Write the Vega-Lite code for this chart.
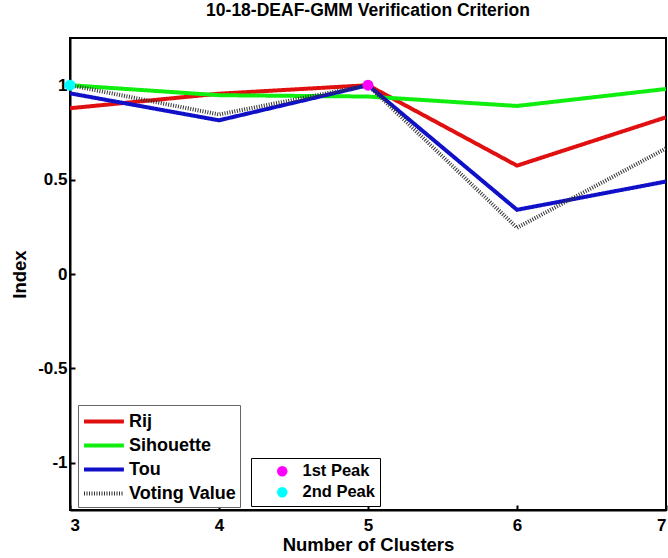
{
  "$schema": "https://vega.github.io/schema/vega-lite/v6.json",
  "width": 596,
  "height": 472,
  "autosize": {"type": "none"},
  "padding": {"left": 70, "top": 38, "right": 2, "bottom": 48},
  "background": "white",
  "config": {
    "font": "Liberation Sans",
    "view": {"stroke": "black", "strokeWidth": 2},
    "axis": {"grid": false, "domainColor": "black", "domainWidth": 2, "tickColor": "black", "tickWidth": 2,
             "labelFont": "Liberation Sans", "labelFontWeight": "bold", "labelFontSize": 17, "labelColor": "black",
             "titleFont": "Liberation Sans", "titleFontWeight": "bold", "titleFontSize": 18.5, "titleColor": "black"},
    "legend": {"labelFont": "Liberation Sans", "labelFontWeight": "bold", "labelFontSize": 18, "labelColor": "black",
               "strokeColor": "#666", "fillColor": "white", "padding": 6}
  },
  "title": {"text": "10-18-DEAF-GMM Verification Criterion", "font": "Liberation Sans", "fontWeight": "bold", "fontSize": 17.5, "color": "black", "offset": 19},
  "datasets": {
    "lines": [
      {"k": 3, "v": 0.878, "s": "Rij"}, {"k": 4, "v": 0.955, "s": "Rij"}, {"k": 5, "v": 1.0, "s": "Rij"}, {"k": 6, "v": 0.574, "s": "Rij"}, {"k": 7, "v": 0.83, "s": "Rij"},
      {"k": 3, "v": 1.0, "s": "Sihouette"}, {"k": 4, "v": 0.947, "s": "Sihouette"}, {"k": 5, "v": 0.94, "s": "Sihouette"}, {"k": 6, "v": 0.89, "s": "Sihouette"}, {"k": 7, "v": 0.98, "s": "Sihouette"},
      {"k": 3, "v": 0.957, "s": "Tou"}, {"k": 4, "v": 0.814, "s": "Tou"}, {"k": 5, "v": 1.0, "s": "Tou"}, {"k": 6, "v": 0.34, "s": "Tou"}, {"k": 7, "v": 0.49, "s": "Tou"},
      {"k": 3, "v": 1.0, "s": "Voting Value"}, {"k": 4, "v": 0.845, "s": "Voting Value"}, {"k": 5, "v": 1.0, "s": "Voting Value"}, {"k": 6, "v": 0.245, "s": "Voting Value"}, {"k": 7, "v": 0.665, "s": "Voting Value"}
    ],
    "peaks": [
      {"k": 5, "v": 1.0, "p": "1st Peak"},
      {"k": 3, "v": 1.0, "p": "2nd Peak"}
    ]
  },
  "encoding": {
    "x": {"field": "k", "type": "quantitative", "scale": {"domain": [3, 7], "nice": false},
          "axis": {"values": [3, 4, 5, 6, 7], "format": "d", "title": "Number of Clusters", "tickSize": -5, "labelPadding": 12, "titlePadding": 2}},
    "y": {"field": "v", "type": "quantitative", "scale": {"domain": [-1.25, 1.25], "nice": false, "zero": false},
          "axis": {"values": [-1, -0.5, 0, 0.5, 1], "labelExpr": "'' + datum.value", "title": "Index", "tickSize": -5, "labelPadding": 8, "titlePadding": 8}}
  },
  "layer": [
    {
      "data": {"name": "lines"},
      "mark": {"type": "line", "strokeWidth": 4, "clip": true},
      "encoding": {
        "color": {"field": "s", "type": "nominal",
                  "scale": {"domain": ["Rij", "Sihouette", "Tou", "Voting Value"], "range": ["#e01010", "#10ee10", "#1010c8", "#333333"]},
                  "legend": {"title": null, "orient": "none", "legendX": 8, "legendY": 367, "symbolType": "M-1,0H2.8", "symbolSize": 441, "symbolStrokeWidth": 4, "labelOffset": 22, "rowPadding": 2, "padding": 4}},
        "strokeDash": {"field": "s", "type": "nominal",
                  "scale": {"domain": ["Rij", "Sihouette", "Tou", "Voting Value"], "range": [[1, 0], [1, 0], [1, 0], [1, 1.5]]},
                  "legend": {"title": null, "orient": "none", "legendX": 8, "legendY": 367, "symbolType": "M-1,0H2.8", "symbolSize": 441, "symbolStrokeWidth": 4, "labelOffset": 22, "rowPadding": 2, "padding": 4}}
      }
    },
    {
      "data": {"name": "peaks"},
      "mark": {"type": "point", "filled": true, "size": 120, "opacity": 1, "clip": false},
      "encoding": {
        "fill": {"field": "p", "type": "nominal",
                 "scale": {"domain": ["1st Peak", "2nd Peak"], "range": ["#ff00ff", "#00ffff"]},
                 "legend": {"title": null, "orient": "none", "legendX": 181, "legendY": 420, "symbolType": "circle", "symbolSize": 110, "labelOffset": 12, "labelFontSize": 16.5, "rowPadding": 4, "padding": 5, "strokeColor": "black", "symbolOffset": 18}}
      }
    }
  ]
}
